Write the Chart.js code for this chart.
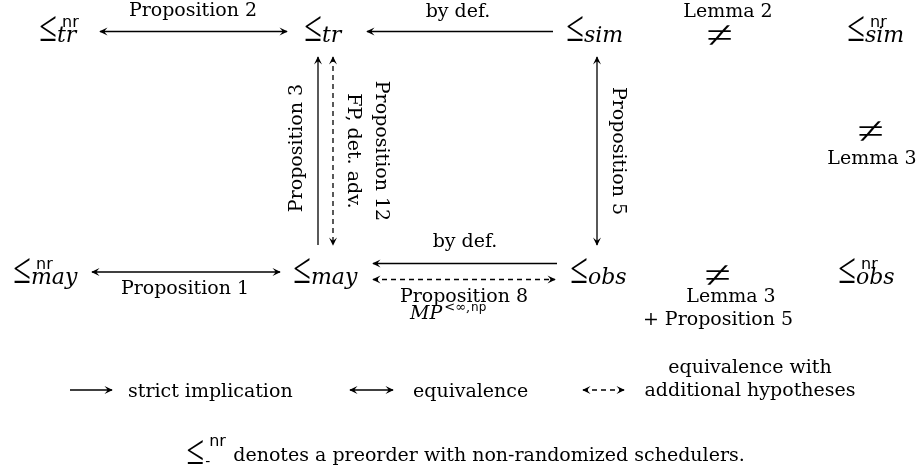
<!DOCTYPE html>
<html><head><meta charset="utf-8">
<script src="https://cdn.jsdelivr.net/npm/chart.js@4/dist/chart.umd.min.js"></script>
<style>html,body{margin:0;padding:0;background:#fff}#wrap{width:920px;height:474px;position:relative}</style>
</head><body><div id="wrap"><canvas id="c"></canvas></div>
<script>
// ---- diagram content (data) ----
const nodeSub = ['tr','tr','sim','sim','may','may','obs','obs'];
const nodeSup = ['nr','','','nr','nr','','','nr'];
const nodeX = [40,305,567,848,14,294,571,839];
const nodeY = [41,41,41,41,283,283,283,283];

const edgeFrom = [[100,31.5],[553,31.5],[318,245],[333,57],[597,57],[92,272],[557,263.5],[373,279.5]];
const edgeTo   = [[287,31.5],[367,31.5],[318,57],[333,245],[597,245],[280,272],[373,263.5],[555,279.5]];
const edgeKind = ['equiv','impl','impl','hyp','equiv','equiv','impl','hyp'];

const labelText = ['Proposition 2','by def.','Proposition 3','Proposition 12','FP, det. adv.','Proposition 5',
                   'Proposition 1','by def.','Proposition 8','Lemma 2','Lemma 3','Lemma 3','+ Proposition 5'];
const labelAt = [[193,16],[458,17],[302,148],[376,151],[348,151],[613,151],[185,294],[465,247],[464,302],[728,17],[872,164],[731,302],[718,325]];
const labelRot = [0,0,-90,90,90,90,0,0,0,0,0,0,0];

const neqAt = [[720,35],[871,131],[718,275]];

const legendFrom = [[70,390],[350,390],[583,390]];
const legendTo   = [[112,390],[393,390],[624,390]];
const legendKind = ['impl','equiv','hyp'];
const legendText = ['strict implication','equivalence'];
const legendTextAt = [[128,397],[413,397]];
const legendMulti = ['equivalence with','additional hypotheses'];
const legendMultiAt = [[750,373],[750,396]];

const footText = ' denotes a preorder with non-randomized schedulers.';
const footAt = [466,461];

const mpAt = [410,319];

// ---- styles ----
const SERIF = 'DejaVu Serif';
const LABEL_FONT = '19px "' + SERIF + '"';
const SUB_FONT = 'italic 22px "' + SERIF + '"';
const SUP_FONT = '16px "DejaVu Sans"';
const SYM_FONT = '40px "Liberation Serif"';
const INK = '#000';

function mkLine(a, b, kind) {
  return {type:'line', data:[{x:a[0],y:a[1]},{x:b[0],y:b[1]}], kind:kind,
    borderColor:INK, borderWidth:1.3, borderDash: kind==='hyp'?[5,4]:[], pointRadius:0, showLine:true, fill:false, tension:0};
}
const datasets = [];
edgeFrom.forEach((a,i)=>datasets.push(mkLine(a, edgeTo[i], edgeKind[i])));
legendFrom.forEach((a,i)=>datasets.push(mkLine(a, legendTo[i], legendKind[i])));
datasets.push({type:'scatter', data: nodeX.map((x,i)=>({x:x,y:nodeY[i]})), pointRadius:0, kind:'nodes'});

function fitGlyph(ctx, ch, cx, cy, w, h) {
  ctx.save();
  ctx.font = SYM_FONT; ctx.textAlign='left'; ctx.textBaseline='alphabetic';
  const m = ctx.measureText(ch);
  const bw = m.actualBoundingBoxLeft + m.actualBoundingBoxRight;
  const bh = m.actualBoundingBoxAscent + m.actualBoundingBoxDescent;
  ctx.translate(cx - w/2, cy - h/2);
  ctx.scale(w/bw, h/bh);
  ctx.fillText(ch, m.actualBoundingBoxLeft, m.actualBoundingBoxAscent);
  ctx.restore();
}
function head(ctx, x, y, ang) {
  ctx.save(); ctx.translate(x,y); ctx.rotate(ang);
  ctx.beginPath(); ctx.moveTo(0.8,0); ctx.lineTo(-7.5,-4); ctx.quadraticCurveTo(-4.6,-0.9,-4.6,0);
  ctx.quadraticCurveTo(-4.6,0.9,-7.5,4); ctx.closePath(); ctx.fill(); ctx.restore();
}
function drawNode(ctx, left, base, sub, sup) {
  fitGlyph(ctx, '\u2264', left+8, base-12.5, 16, 25);
  ctx.textAlign='left'; ctx.textBaseline='alphabetic';
  if (sub) { ctx.font = SUB_FONT; ctx.fillText(sub, left+17, base+1); }
  if (sup) { ctx.font = SUP_FONT; ctx.fillText(sup, left+22, base-14); }
}

const diagramPlugin = {
  id:'diagram',
  afterDatasetsDraw(chart) {
    const ctx = chart.ctx, X = v=>chart.scales.x.getPixelForValue(v), Y = v=>chart.scales.y.getPixelForValue(v);
    ctx.save();
    ctx.fillStyle = INK; ctx.strokeStyle = INK;
    chart.data.datasets.forEach((ds,i)=>{
      if (ds.type!=='line') return;
      const pts = chart.getDatasetMeta(i).data;
      const p0 = pts[0], p1 = pts[1];
      const ang = Math.atan2(p1.y-p0.y, p1.x-p0.x);
      head(ctx, p1.x, p1.y, ang);
      if (ds.kind!=='impl') head(ctx, p0.x, p0.y, ang+Math.PI);
    });
    const nm = chart.getDatasetMeta(chart.data.datasets.length-1).data;
    nm.forEach((p,i)=>drawNode(ctx, p.x, p.y, nodeSub[i], nodeSup[i]));
    ctx.font = LABEL_FONT; ctx.textBaseline='alphabetic';
    labelText.forEach((t,i)=>{
      ctx.save();
      ctx.translate(X(labelAt[i][0]), Y(labelAt[i][1]));
      ctx.rotate(labelRot[i]*Math.PI/180);
      ctx.textAlign='center';
      ctx.fillText(t,0,0);
      ctx.restore();
    });
    ctx.textAlign='left';
    let mx = X(mpAt[0]), my = Y(mpAt[1]);
    ctx.font = 'italic 19px "' + SERIF + '"';
    ctx.fillText('MP', mx, my); mx += ctx.measureText('MP').width + 2;
    ctx.font = '13px "' + SERIF + '"';
    ctx.fillText('<\u221E,', mx, my-8); mx += ctx.measureText('<\u221E,').width + 1;
    ctx.font = '12px "DejaVu Sans"';
    ctx.fillText('np', mx, my-8);
    neqAt.forEach(p=>fitGlyph(ctx, '\u2260', X(p[0]), Y(p[1]), 24, 20));
    ctx.font = LABEL_FONT; ctx.textAlign='left';
    legendText.forEach((t,i)=>ctx.fillText(t, X(legendTextAt[i][0]), Y(legendTextAt[i][1])));
    ctx.textAlign='center';
    legendMulti.forEach((t,i)=>ctx.fillText(t, X(legendMultiAt[i][0]), Y(legendMultiAt[i][1])));
    ctx.font = LABEL_FONT; ctx.textAlign='left';
    const tw = ctx.measureText(footText).width;
    const total = 40 + tw;
    const fl = X(footAt[0]) - total/2, fb = Y(footAt[1]);
    fitGlyph(ctx, '\u2264', fl+8, fb-9, 16, 24);
    ctx.font = SUP_FONT; ctx.fillText('nr', fl+22, fb-15);
    ctx.font = '14px "DejaVu Sans"'; ctx.fillText('-', fl+18, fb+5);
    ctx.font = LABEL_FONT; ctx.fillText(footText, fl+40, fb);
    ctx.restore();
  }
};

new Chart(document.getElementById('c'), {
  data:{datasets:datasets},
  options:{
    responsive:true, maintainAspectRatio:false, animation:false, events:[],
    layout:{padding:0},
    plugins:{legend:{display:false}, tooltip:{enabled:false}},
    scales:{
      x:{type:'linear', min:0, max:920, display:false},
      y:{type:'linear', min:0, max:474, reverse:true, display:false}
    }
  },
  plugins:[diagramPlugin]
});
</script>
</body></html>
